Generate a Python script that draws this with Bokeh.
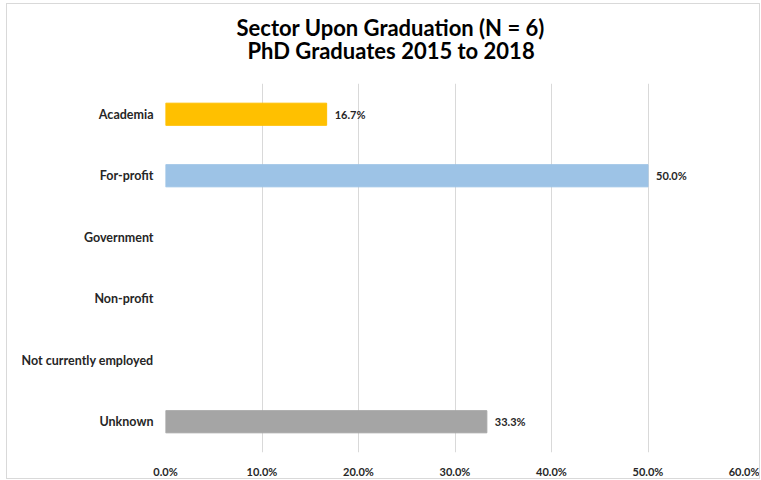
from bokeh.plotting import figure
from bokeh.models import ColumnDataSource, Range1d, FixedTicker, NumeralTickFormatter, LabelSet, Title
from bokeh.core.properties import value
from bokeh.embed import file_html
from bokeh.resources import INLINE

categories = ["Academia", "For-profit", "Government", "Non-profit", "Not currently employed", "Unknown"]
values = [0.167, 0.50, 0.0, 0.0, 0.0, 0.333]
colors = ["#FFC000", "#9DC3E6", "#4472C4", "#ED7D31", "#70AD47", "#A5A5A5"]
x_ticks = [0.0, 0.1, 0.2, 0.3, 0.4, 0.5, 0.6]
title_lines = ["Sector Upon Graduation (N = 6)", "PhD Graduates 2015 to 2018"]

FONT = "Lato"

src = ColumnDataSource(dict(
    cat=categories,
    val=values,
    color=colors,
    lbl=[("%.1f%%" % (v * 100)) if v > 0 else "" for v in values],
))
bars = ColumnDataSource(dict(
    cat=[c for c, v in zip(categories, values) if v > 0],
    val=[v for v in values if v > 0],
    color=[col for col, v in zip(colors, values) if v > 0],
))

p = figure(
    width=754, height=476,
    y_range=list(reversed(categories)),
    x_range=Range1d(0, 0.6),
    output_backend="svg", toolbar_location=None,
    min_border_left=158, min_border_right=17, min_border_top=79, min_border_bottom=28,
)
p.styles = {"border": "1px solid #d9d9d9", "margin-left": "6px", "margin-top": "3px"}
p.outline_line_color = None

p.hbar(y="cat", right="val", left=0, height=0.36, color="color", source=bars)

p.add_layout(LabelSet(x="val", y="cat", text="lbl", source=src, x_offset=8,
                      text_baseline="middle", text_font=value(FONT), text_font_style="bold",
                      text_font_size="11px", text_color="#262626"))

p.xaxis.ticker = FixedTicker(ticks=x_ticks)
p.xaxis.formatter = NumeralTickFormatter(format="0.0%")
for ax in (p.xaxis, p.yaxis):
    ax.axis_line_color = None
    ax.major_tick_line_color = None
    ax.minor_tick_line_color = None
    ax.major_label_text_font = FONT
    ax.major_label_text_font_style = "bold"
    ax.major_label_text_font_size = "11px"
    ax.major_label_text_color = "#262626"
p.yaxis.major_label_text_font_size = "12.5px"
p.xaxis.major_label_standoff = 6
p.yaxis.major_label_standoff = 6

p.xgrid.grid_line_color = "#d9d9d9"
p.xgrid.ticker = FixedTicker(ticks=x_ticks)
p.ygrid.grid_line_color = None

p.add_layout(Title(text=title_lines[1], align="left", offset=82, standoff=40,
                   text_font=FONT, text_font_style="bold", text_font_size="22px",
                   text_color="#000000"), "above")
p.add_layout(Title(text=title_lines[0], align="left", offset=71, standoff=-52,
                   text_font=FONT, text_font_style="bold", text_font_size="22px",
                   text_color="#000000"), "above")

open("out.html", "w").write(file_html(p, INLINE))
